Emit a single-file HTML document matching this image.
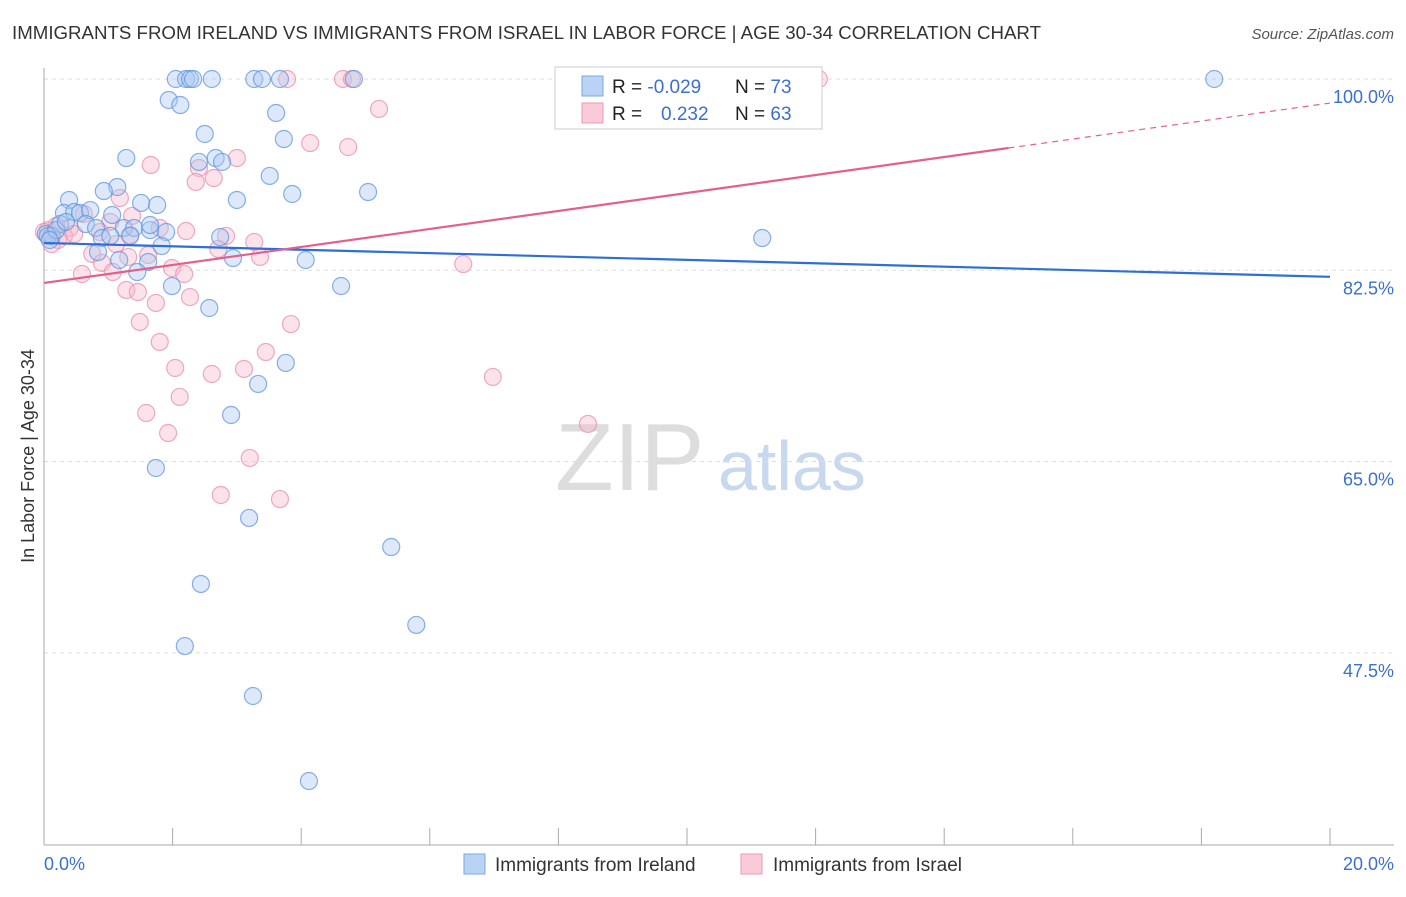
<!DOCTYPE html>
<html><head><meta charset="utf-8"><style>
body{margin:0;background:#fff;font-family:"Liberation Sans",sans-serif;}
svg text{font-family:"Liberation Sans",sans-serif;}
</style></head><body>
<svg id="chart" width="1406" height="892" viewBox="0 0 1406 892">
<text x="12" y="39" font-size="18" fill="#333" textLength="1029" lengthAdjust="spacingAndGlyphs">IMMIGRANTS FROM IRELAND VS IMMIGRANTS FROM ISRAEL IN LABOR FORCE | AGE 30-34 CORRELATION CHART</text>
<text x="1394" y="39" font-size="15" fill="#555" text-anchor="end" font-style="italic">Source: ZipAtlas.com</text>
<text x="555" y="490" font-size="96" fill="#ddd" font-family="Liberation Serif">ZIP</text>
<text x="718" y="490" font-size="70" fill="#c8d8ee">atlas</text>
<g id="grid"></g><g id="marks"></g><g id="lines"></g>
<text transform="translate(34,456) rotate(-90)" font-size="18" fill="#333" text-anchor="middle">In Labor Force | Age 30-34</text>
<text x="44" y="870" font-size="18" fill="#3b6fd0">0.0%</text>
<text x="1394" y="870" font-size="18" fill="#3b6fd0" text-anchor="end">20.0%</text>
<g>
<rect x="555" y="67" width="267" height="62" fill="#fff" stroke="#ccc"/>
<rect x="582" y="76" width="21" height="20" fill="#b9d3f5" stroke="#7aa7e3"/>
<rect x="582" y="103" width="21" height="20" fill="#fbcad8" stroke="#eb9ab3"/>
<text x="612" y="93" font-size="19" fill="#222">R = <tspan fill="#3b6fd0">-0.029</tspan></text>
<text x="735" y="93" font-size="19" fill="#222">N = <tspan fill="#3b6fd0">73</tspan></text>
<text x="612" y="120" font-size="19" fill="#222">R = <tspan fill="#3b6fd0" x="661">0.232</tspan></text>
<text x="735" y="120" font-size="19" fill="#222">N = <tspan fill="#3b6fd0">63</tspan></text>
</g>
<g><rect x="464" y="854" width="21" height="20" fill="#b9d3f5" stroke="#7aa7e3"/><text x="495" y="871" font-size="19" fill="#333">Immigrants from Ireland</text></g>
<g><rect x="741" y="854" width="21" height="20" fill="#fbcad8" stroke="#eb9ab3"/><text x="773" y="871" font-size="19" fill="#333">Immigrants from Israel</text></g>
</svg>
<script>
const yTicks=[100,82.5,65,47.5];
const yTickLabels=["100.0%","82.5%","65.0%","47.5%"];
const blueX=[2.05,2.21,2.27,2.32,2.61,3.27,3.39,3.67,4.82,18.2,1.94,2.12,3.61,2.5,3.73,1.28,2.41,2.67,2.77,3.51,1.14,0.93,3.86,5.04,0.39,3.0,1.51,1.76,0.31,0.47,0.56,0.72,1.06,0.25,0.65,0.81,1.24,1.4,1.65,1.9,0.03,0.12,0.9,1.34,2.74,11.17,0.84,1.83,1.17,1.62,2.94,4.07,1.45,1.99,4.62,2.57,3.76,3.33,2.91,1.74,3.19,5.4,2.44,5.79,2.19,3.25,4.12,0.06,0.19,0.34,1.03,1.65,0.09];
const blueY=[100,100,100,100,100,100,100,100,100,100,98.08,97.62,96.89,94.97,94.51,92.77,92.41,92.77,92.41,91.13,90.12,89.75,89.48,89.66,88.93,88.93,88.66,88.47,87.74,87.83,87.74,88.01,87.56,86.73,86.73,86.37,86.37,86.37,86.18,86.0,85.82,85.64,85.45,85.64,85.54,85.45,84.17,84.72,83.44,83.26,83.62,83.44,82.34,81.06,81.06,79.05,74.02,72.1,69.26,64.41,59.84,57.18,53.8,50.05,48.12,43.55,35.77,85.64,86.18,86.92,85.64,86.64,85.27];
const pinkX=[3.78,4.65,4.79,10.42,10.82,12.05,5.21,4.14,4.73,3.0,1.66,2.41,2.64,2.36,1.18,1.8,2.21,1.03,1.34,2.83,3.27,2.71,3.36,0.75,1.31,1.62,0.9,1.99,2.18,0.59,1.07,1.28,1.46,1.74,2.27,6.52,1.49,3.84,1.80,3.45,2.04,2.61,3.11,6.98,2.11,1.59,1.93,8.46,3.2,2.75,3.67,0.22,0.4,0.06,0.31,0.47,0.87,0.19,0.12,1.12,1.37,0.62,0.0];
const pinkY=[100,100,100,100,100,100,97.26,94.14,93.78,92.77,92.13,91.86,90.94,90.58,89.11,86.37,86.09,86.92,85.73,85.64,85.09,84.45,83.72,84.0,83.72,83.9,83.17,82.71,82.16,82.16,82.34,80.7,80.51,79.51,80.05,83.07,77.77,77.58,75.94,75.02,73.56,73.01,73.47,72.74,70.91,69.44,67.61,68.44,65.33,61.94,61.57,85.27,86.37,86.18,85.64,85.82,86.0,86.55,84.9,84.9,87.47,87.65,86.0];
const blueLine=[85.0,81.9];
const pinkLine=[81.34,97.8];
const pinkSolidEnd=15.0;
const NS="http://www.w3.org/2000/svg";
const X0=44,X1=1330,YTOP=79,PXPCT=10.93;
function sx(v){return X0+(X1-X0)*v/20;}
function sy(v){return YTOP+(100-v)*PXPCT;}
function mk(tag,attrs,parent){const e=document.createElementNS(NS,tag);for(const k in attrs)e.setAttribute(k,attrs[k]);parent.appendChild(e);return e;}
const grid=document.getElementById('grid'),marks=document.getElementById('marks'),lines=document.getElementById('lines');
yTicks.forEach((t,i)=>{
 const l=mk('line',{x1:X0,x2:1394,y1:sy(t),y2:sy(t),stroke:'#ddd','stroke-dasharray':'4,4'},grid);
 
 
 const tx=mk('text',{x:1394,y:sy(t)+24,'font-size':18,fill:'#3b6fd0','text-anchor':'end'},grid);
 tx.textContent=yTickLabels[i];
 
 
});
const ax=mk('line',{x1:X0,x2:1394,y1:845,y2:845,stroke:'#aaa'},grid);


const ay=mk('line',{x1:X0,x2:X0,y1:68,y2:845,stroke:'#aaa'},grid);


for(let i=0;i<=10;i++){const t=mk('line',{x1:sx(i*2),x2:sx(i*2),y1:828,y2:845,stroke:'#aaa'},grid);
 
 }
function pts(xs,ys,fill,stroke,name){xs.forEach((x,i)=>{
 const c=mk('circle',{cx:sx(x),cy:sy(ys[i]),r:8.5,fill:fill,'fill-opacity':0.4,stroke:stroke,'stroke-width':1.2,'stroke-opacity':0.75},marks);
 
 });}
pts(pinkX,pinkY,'#f7b9cc','#e88fab','israel-point');
pts(blueX,blueY,'#a9c9f2','#5f95dd','ireland-point');
const bl=mk('line',{x1:sx(0),y1:sy(blueLine[0]),x2:sx(20),y2:sy(blueLine[1]),stroke:'#2d6fd6','stroke-width':2.2},lines);


const pm=pinkLine[0]+(pinkLine[1]-pinkLine[0])*pinkSolidEnd/20;
const pl=mk('line',{x1:sx(0),y1:sy(pinkLine[0]),x2:sx(pinkSolidEnd),y2:sy(pm),stroke:'#e4608c','stroke-width':2.2},lines);


const pd=mk('line',{x1:sx(pinkSolidEnd),y1:sy(pm),x2:sx(20),y2:sy(pinkLine[1]),stroke:'#e4608c','stroke-width':1.2,'stroke-dasharray':'6,5'},lines);


</script>
</body></html>
